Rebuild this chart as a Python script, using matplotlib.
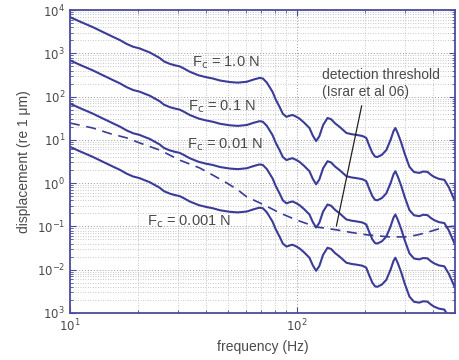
import numpy as np
import matplotlib
matplotlib.use("Agg")
import matplotlib.pyplot as plt
from matplotlib.ticker import FixedLocator, LogLocator, NullFormatter

plt.rcParams['font.family'] = ['Liberation Sans', 'DejaVu Sans']

# displacement per 1 N of contact force
freq = [10, 11, 12.6, 14, 15.5, 16.6, 17.8, 19, 20.3, 21.5, 22.5, 24.9, 26,
        27.6, 29, 30.5, 32, 33.8, 37, 40, 42.7, 46, 50.7, 55, 60.3, 65, 68.7,
        71, 74, 78.4, 81, 84.2, 87, 90.3, 93, 96, 100, 103, 108, 114, 118,
        122, 126, 131, 137, 142, 148, 155, 166, 175, 184, 195, 203, 209, 216,
        222, 227, 238, 249, 260, 268, 273, 280, 290, 300, 315, 330, 348, 362,
        378, 392, 405, 425, 449, 470, 497]
disp_1N = [6900, 5500, 4050, 3100, 2400, 2030, 1650, 1420, 1300, 1150, 1050,
           780, 650, 570, 530, 500, 440, 375, 310, 280, 262, 235, 217, 210,
           220, 250, 270, 262, 210, 128, 85, 57.5, 40, 34, 36, 37.6, 34, 31,
           25, 18.8, 12.5, 9.4, 12, 22, 32, 30, 24, 19.9, 14.4, 13.5, 13.0,
           12.3, 11.1, 7.5, 5.0, 4.1, 4.0, 4.5, 5.8, 10, 16, 18.8, 14, 8.5,
           4.8, 2.37, 1.8, 1.72, 1.85, 1.82, 1.55, 1.39, 1.25, 1.19, 0.8, 0.41]
forces = [1.0, 0.1, 0.01, 0.001]
force_labels = ["1.0", "0.1", "0.01", "0.001"]

# detection threshold (Israr et al 06)
thr_freq = [10, 12.6, 15, 17.8, 20.3, 24.9, 30.5, 37.3, 43, 49.2, 55, 60.3,
            68.7, 76, 84.2, 100, 122, 150, 175, 203, 230, 257, 306, 340, 372,
            410, 456, 497]
thr_disp = [24.5, 18.8, 14, 11.1, 8.5, 5.8, 3.4, 2.25, 1.5, 1.01, 0.7, 0.48,
            0.35, 0.27, 0.205, 0.14, 0.097, 0.083, 0.072, 0.064, 0.06, 0.057,
            0.057, 0.063, 0.071, 0.083, 0.097, 0.1]

ytick_vals = [1e-3, 1e-2, 1e-1, 1e0, 1e1, 1e2, 1e3, 1e4]
ytick_text = [r'$10^{3}$', r'$10^{-2}$', r'$10^{-1}$', r'$10^{0}$',
              r'$10^{1}$', r'$10^{2}$', r'$10^{3}$', r'$10^{4}$']

line_col = '#3b3b98'
frame_col = '#4b4b9e'
text_col = '#4a4a4a'

fig = plt.figure(figsize=(4.6, 3.6), dpi=100)
ax = fig.add_axes([0.152, 0.131, 0.837, 0.841])

for fc in forces:
    ax.plot(freq, np.array(disp_1N) * fc, color=line_col, lw=1.5,
            solid_joinstyle='round')
ax.plot(thr_freq, thr_disp, color=line_col, lw=1.2, ls=(0, (6, 4)))

ax.set_xscale('log')
ax.set_yscale('log')
ax.set_xlim(10, 500)
ax.set_ylim(1e-3, 1e4)

ax.yaxis.set_major_locator(FixedLocator(ytick_vals))
ax.set_yticklabels(ytick_text)
ax.yaxis.set_minor_locator(LogLocator(base=10, subs=np.arange(2, 10), numticks=20))
ax.yaxis.set_minor_formatter(NullFormatter())
ax.xaxis.set_major_locator(FixedLocator([10, 100]))
ax.set_xticklabels([r'$10^{1}$', r'$10^{2}$'])
ax.xaxis.set_minor_locator(LogLocator(base=10, subs=np.arange(2, 10), numticks=20))
ax.xaxis.set_minor_formatter(NullFormatter())

ax.grid(True, which='major', color='#9a9a9a', ls=(0, (1, 2)), lw=0.7)
ax.grid(True, which='minor', color='#b5b5b5', ls=(0, (1, 2)), lw=0.6)

ax.tick_params(which='both', direction='in', top=True, right=True,
               colors=frame_col, labelcolor=text_col, labelsize=8.5)
ax.tick_params(which='major', length=4)
ax.tick_params(which='minor', length=2)
for sp in ax.spines.values():
    sp.set_color(frame_col)
    sp.set_linewidth(1.3)

ax.set_xlabel('frequency (Hz)', color=text_col, fontsize=10)
ax.set_ylabel(u'displacement (re 1 \u03bcm)', color=text_col, fontsize=10)

label_pos = [(34.4, 597), (33.1, 57.5), (32.8, 7.6), (21.8, 0.127)]
for (fx, fy), lab in zip(label_pos, force_labels):
    ax.text(fx, fy, r'F$_{\rm c}$ = ' + lab + ' N', color=text_col,
            fontsize=10.5, va='center', ha='left')

ax.text(129, 200, 'detection threshold\n(Israr et al 06)', color=text_col,
        fontsize=10, va='center', ha='left', linespacing=1.25)
ax.annotate('', xy=(149, 0.0875), xytext=(195, 71),
            arrowprops=dict(arrowstyle='-', color='#222222', lw=0.9))

fig.savefig('out.png', dpi=100)
